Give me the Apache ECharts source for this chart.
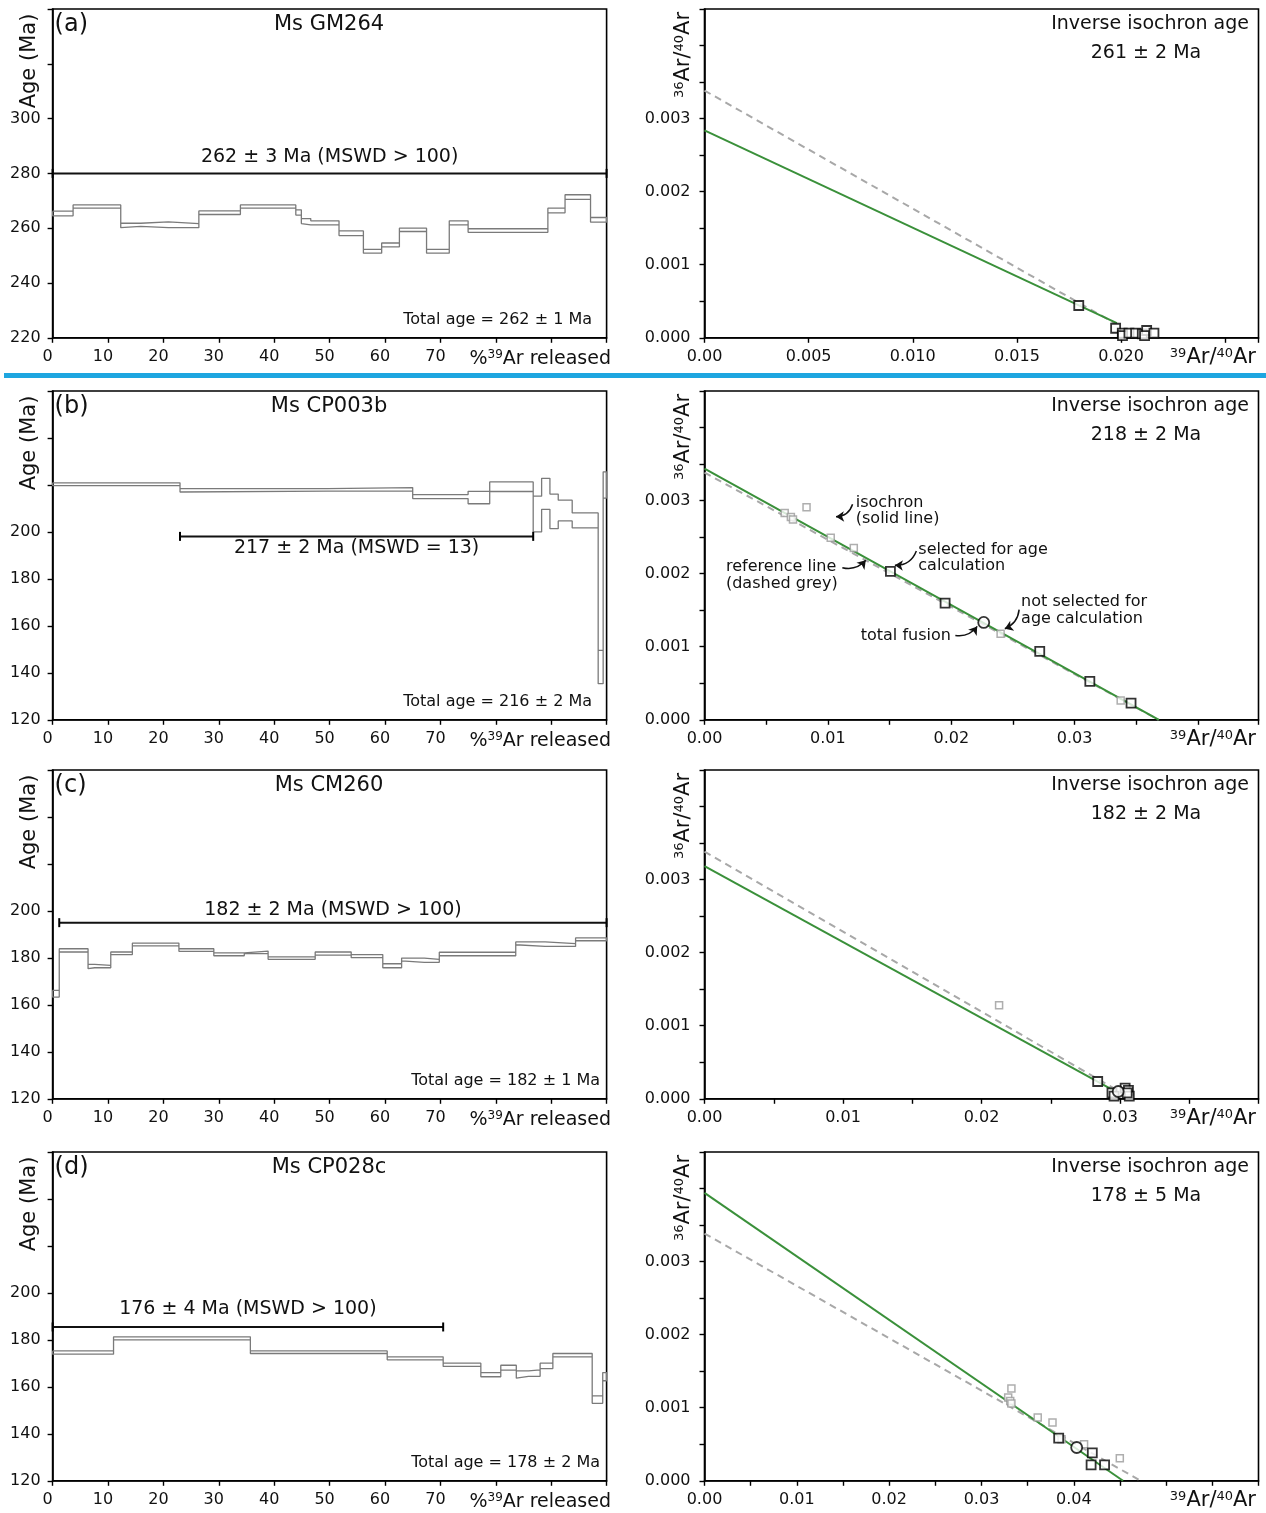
<!DOCTYPE html>
<html><head><meta charset="utf-8">
<script src="https://cdn.jsdelivr.net/npm/echarts@6/dist/echarts.min.js"></script>
<style>html,body{margin:0;padding:0;background:#fff}#c{width:1266px;height:1513px}</style>
</head><body><div id="c"></div>
<script>
// ---------------- DATA ----------------
const panelLetters = ['(a)', '(b)', '(c)', '(d)'];
const sampleNames = ['Ms GM264', 'Ms CP003b', 'Ms CM260', 'Ms CP028c'];
const totalAgeText = ['Total age = 262 \u00b1 1 Ma', 'Total age = 216 \u00b1 2 Ma', 'Total age = 182 \u00b1 1 Ma', 'Total age = 178 \u00b1 2 Ma'];
const isoAgeText = ['261 \u00b1 2 Ma', '218 \u00b1 2 Ma', '182 \u00b1 2 Ma', '178 \u00b1 5 Ma'];

// age spectra: cumulative %39Ar boundaries, upper / lower age of each step (Ma)
const specA_cum = [0,3.7,12.3,15.9,20.9,26.4,33.9,43.9,44.9,46.6,51.7,56.1,59.4,62.6,67.5,71.6,75.0,89.4,92.5,97.1,100];
const specA_hi = [266.2,268.5,261.8,262.3,261.7,266.3,268.5,266.7,263.5,262.7,259.0,252.3,254.6,260.0,252.3,262.7,259.8,267.3,272.2,263.9];
const specA_lo = [264.5,267.3,260.2,260.7,260.2,265.0,267.3,264.8,261.7,261.2,257.3,250.9,253.2,258.8,250.9,261.2,258.5,265.6,270.5,262.2];

const specB_cum = [0,23.0,49.6,65.0,75.0,78.9,86.75,88.27,89.77,91.27,93.79,98.48,99.38,100];
const specB_hi = [220.9,218.4,218.9,215.9,217.3,221.3,215.2,222.8,216.1,213.5,208.1,149.6,225.6];
const specB_lo = [219.7,217.0,217.4,214.2,212.0,217.2,200.0,209.6,201.4,204.7,201.7,135.4,214.4];

const specC_cum = [0,1.2,6.4,7.6,10.5,14.4,22.8,29.1,34.6,38.9,47.4,53.9,59.6,63.0,67.1,69.8,83.6,88.9,94.4,100];
const specC_hi = [166.2,183.9,177.2,176.8,182.5,186.3,183.9,182.1,182.9,180.4,182.5,181.4,177.5,179.9,179.4,182.4,186.8,186.1,188.5];
const specC_lo = [163.3,182.5,175.4,175.8,181.4,185.1,182.8,180.9,181.8,179.4,181.2,180.1,175.8,178.7,178.1,180.9,185.6,184.9,187.3];

const specD_cum = [0,11.0,35.7,60.4,70.5,77.3,80.9,83.7,85.9,88.0,90.3,97.4,99.3,100];
const specD_hi = [175.3,181.3,175.3,172.8,170.1,166.1,169.2,166.8,167.2,170.1,174.2,156.2,166.1];
const specD_lo = [173.9,180.0,174.2,171.5,168.7,164.3,167.1,163.7,164.5,167.8,172.8,153.0,162.6];

// plateaus
const plateauFrom = [0, 23.0, 1.2, 0];
const plateauTo = [100, 86.75, 100, 70.5];
const plateauAge = [280, 198.1, 195.0, 185.5];
const plateauText = ['262 \u00b1 3 Ma (MSWD > 100)', '217 \u00b1 2 Ma (MSWD = 13)', '182 \u00b1 2 Ma (MSWD > 100)', '176 \u00b1 4 Ma (MSWD > 100)'];

// inverse isochrons: [39Ar/40Ar, 36Ar/40Ar]
const isoA_sel = [[0.01797,0.000442],[0.01974,0.000131],[0.02006,0.000063],[0.02007,0.00003],[0.02038,0.000063],[0.0207,0.000063],[0.02102,0.000055],[0.02123,0.0001],[0.02113,0.00003],[0.02158,0.000063]];
const isoA_rej = [];
const isoA_tf = [];
const isoA_line = [[0,0.00284],[0.0198,0.0002]];
const isoA_ref = [[0,0.003384],[0.0197,0.0002]];

const isoB_sel = [[0.01507,0.002032],[0.0195,0.001598],[0.02717,0.000936],[0.03123,0.000525],[0.03457,0.000228]];
const isoB_rej = [[0.0065,0.00283],[0.0070,0.002776],[0.00717,0.00274],[0.00827,0.00291],[0.01023,0.002493],[0.0121,0.002352],[0.024,0.001178],[0.03373,0.000265]];
const isoB_tf = [[0.02263,0.001333]];
const isoB_line = [[0,0.003438],[0.03683,0]];
const isoB_ref = [[0,0.003384],[0.0368,0]];

const isoC_sel = [[0.02839,0.000237],[0.02942,0.000082],[0.02957,0.000037],[0.03037,0.000146],[0.03061,0.000114],[0.03067,0.000037],[0.03052,0.00008]];
const isoC_rej = [[0.02127,0.001279]];
const isoC_tf = [[0.02987,0.0001]];
const isoC_line = [[0,0.003183],[0.0296,0.00011]];
const isoC_ref = [[0,0.003384],[0.0296,0.00014]];

const isoD_sel = [[0.03836,0.000583],[0.0420,0.000383],[0.04187,0.000219],[0.04333,0.000219]];
const isoD_rej = [[0.03324,0.001262],[0.03289,0.001139],[0.03311,0.001093],[0.03324,0.001057],[0.03609,0.000866],[0.03769,0.000797],[0.03867,0.000569],[0.04111,0.000501],[0.04498,0.00031]];
const isoD_tf = [[0.04031,0.000456]];
const isoD_line = [[0,0.003941],[0.04533,0]];
const isoD_ref = [[0,0.003384],[0.04724,0]];

// isochron x-axis ranges
const isoXMax = [0.0266, 0.0449, 0.04, 0.06];

// annotations in panel (b) isochron
const annoText = ['isochron\n(solid line)', 'reference line\n(dashed grey)', 'selected for age\ncalculation', 'not selected for\nage calculation', 'total fusion'];
const annoAnchor = [[0.01226,0.00286],[0.00174,0.001977],[0.01733,0.002216],[0.02566,0.001497],[0.01266,0.001155]];
const annoArrows = [
  [[0.0120,0.00295],[0.01066,0.002778]],
  [[0.01117,0.002082],[0.01307,0.002182]],
  [[0.01717,0.00231],[0.01543,0.002114]],
  [[0.0255,0.001507],[0.02434,0.001247]],
  [[0.02033,0.001155],[0.0221,0.001278]]
];
const annoCurve = [0.35, -0.3, 0.35, 0.3, -0.3];

// ---------------- LAYOUT ----------------
const FONT = 'DejaVu Sans';
const INK = '#111';
const rowTop = [9, 391, 770, 1152];
const plotH = 328.8;
const leftX = 52.6, rightX = 704.5, plotW = 554;
const totalRight = [592, 592, 600, 600];
const plateauGap = [16, -12, 13, 18];

const specs = [[specA_cum,specA_hi,specA_lo],[specB_cum,specB_hi,specB_lo],[specC_cum,specC_hi,specC_lo],[specD_cum,specD_hi,specD_lo]];
const isos = [
  [isoA_sel,isoA_rej,isoA_tf,isoA_line,isoA_ref],
  [isoB_sel,isoB_rej,isoB_tf,isoB_line,isoB_ref],
  [isoC_sel,isoC_rej,isoC_tf,isoC_line,isoC_ref],
  [isoD_sel,isoD_rej,isoD_tf,isoD_line,isoD_ref]
];

function envelope(cum, hi, lo) {
  const p = [];
  for (let i = 0; i < hi.length; i++) { p.push([cum[i], hi[i]], [cum[i+1], hi[i]]); }
  for (let i = hi.length - 1; i >= 0; i--) { p.push([cum[i+1], lo[i]], [cum[i], lo[i]]); }
  p.push([cum[0], hi[0]]);
  return p;
}

const axisLineS = {show:true, onZero:false, lineStyle:{color:'#000', width:1.6}};
const tickS = {show:true, inside:false, length:5, lineStyle:{color:'#000', width:1.4}};
const lblS = {color:INK, fontSize:16, fontFamily:FONT};

const grids = [], xAxes = [], yAxes = [], series = [], graphics = [];

function txt(x, y, text, size, align, extra) {
  return Object.assign({type:'text', x:x, y:y, z:10, silent:true,
    style:{text:text, fontSize:size, fontFamily:FONT, fill:INK, align:align, verticalAlign:'middle'}}, extra || {});
}
function supTxt(x, y, text, size, supSize, align, rotation) {
  const g = {type:'text', x:x, y:y, z:10, silent:true,
    style:{text:text, fontSize:size, fontFamily:FONT, fill:INK, align:align, verticalAlign:'middle',
      rich:{s:{fontSize:supSize, fontFamily:FONT, fill:INK, verticalAlign:'top'}, n:{fontSize:size, fontFamily:FONT, fill:INK}}}};
  if (rotation) g.rotation = rotation;
  return g;
}

for (let r = 0; r < 4; r++) {
  const top = rowTop[r];
  const bottom = top + plotH;
  const gL = r*2, gR = r*2 + 1;
  grids.push({left:leftX, top:top, width:plotW, height:plotH, show:true, borderColor:'#000', borderWidth:1.6, backgroundColor:'#fff'});
  grids.push({left:rightX, top:top, width:plotW, height:plotH, show:true, borderColor:'#000', borderWidth:1.6, backgroundColor:'#fff'});
  xAxes.push({gridIndex:gL, type:'value', min:0, max:100, interval:10, axisLine:axisLineS, axisTick:tickS, splitLine:{show:false},
    axisLabel:Object.assign({margin:11, padding:[0,10,0,0], formatter:v => v <= 70 ? String(v) : ''}, lblS)});
  const yMin = r === 0 ? 220 : 120, yMax = r === 0 ? 340 : 260, yLab = r === 0 ? 300 : 200;
  yAxes.push({gridIndex:gL, type:'value', min:yMin, max:yMax, interval:20, axisLine:axisLineS, axisTick:tickS, splitLine:{show:false},
    axisLabel:Object.assign({margin:12, formatter:v => v <= yLab ? String(v) : ''}, lblS)});
  const xm = isoXMax[r];
  xAxes.push({gridIndex:gR, type:'value', min:0, max:xm, interval:0.005, axisLine:axisLineS, axisTick:tickS, splitLine:{show:false},
    axisLabel:Object.assign({margin:11, formatter:function(v){
      const k = Math.round(v/0.005);
      if (Math.abs(v - k*0.005) > 1e-9) return '';
      if (r === 0) { if (k === 0) return '0.00'; return k <= 4 ? (k*0.005).toFixed(3) : ''; }
      const lim = r === 3 ? 8 : 6;
      return (k % 2 === 0 && k <= lim) ? (k*0.005).toFixed(2) : '';
    }}, lblS)});
  yAxes.push({gridIndex:gR, type:'value', min:0, max:0.0045, interval:0.0005, axisLine:axisLineS, axisTick:tickS, splitLine:{show:false},
    axisLabel:Object.assign({margin:14, formatter:function(v){
      const k = Math.round(v/0.0005);
      return (k % 2 === 0 && k <= 6) ? (k*0.0005).toFixed(3) : '';
    }}, lblS)});

  // spectrum envelope
  const sp = specs[r];
  series.push({type:'line', xAxisIndex:gL, yAxisIndex:gL, data:envelope(sp[0], sp[1], sp[2]), symbol:'none', silent:true,
    lineStyle:{color:'#7a7a7a', width:1.3}, z:3});
  // plateau
  series.push({type:'line', xAxisIndex:gL, yAxisIndex:gL,
    data:[[plateauFrom[r], plateauAge[r]], [plateauTo[r], plateauAge[r]]],
    symbol:'rect', symbolSize:[2,9], showSymbol:true, itemStyle:{color:'#000'}, lineStyle:{color:'#111', width:2}, z:4});

  // isochron
  const iso = isos[r];
  series.push({type:'line', xAxisIndex:gR, yAxisIndex:gR, data:iso[4], symbol:'none', lineStyle:{color:'#a8a8a8', width:2, type:[7,5]}, z:2});
  series.push({type:'line', xAxisIndex:gR, yAxisIndex:gR, data:iso[3], symbol:'none', lineStyle:{color:'#3a903a', width:2}, z:3});
  series.push({type:'scatter', xAxisIndex:gR, yAxisIndex:gR, data:iso[1], symbol:'rect', symbolSize:7,
    itemStyle:{color:'#fff', borderColor:'#9a9a9a', borderWidth:1.5}, z:4});
  series.push({type:'scatter', xAxisIndex:gR, yAxisIndex:gR, data:iso[0], symbol:'rect', symbolSize:9,
    itemStyle:{color:'#fff', borderColor:'#000', borderWidth:1.8}, z:5});
  series.push({type:'scatter', xAxisIndex:gR, yAxisIndex:gR, data:iso[2], symbol:'circle', symbolSize:11,
    itemStyle:{color:'#fff', borderColor:'#000', borderWidth:1.8}, z:6});

  // texts - left
  graphics.push(txt(leftX + 2, top + 16, panelLetters[r], 24, 'left'));
  graphics.push(txt(329, top + 16, sampleNames[r], 21, 'center'));
  graphics.push(txt(totalRight[r], bottom - 18, totalAgeText[r], 16, 'left' === 'x' ? 'left' : 'right'));
  graphics.push(txt(30, top + 52, 'Age (Ma)', 21, 'center', {rotation:Math.PI/2}));
  graphics.push(supTxt(611, bottom + 21, '{n|%}{s|39}{n|Ar released}', 19, 12, 'right'));
  // texts - right
  graphics.push(txt(1249, top + 15, 'Inverse isochron age', 19, 'right'));
  graphics.push(txt(1146, top + 44, isoAgeText[r], 19, 'center'));
  graphics.push(supTxt(684, top + 46, '{s|36}{n|Ar/}{s|40}{n|Ar}', 21, 13, 'center', Math.PI/2));
  graphics.push(supTxt(1256, bottom + 20, '{s|39}{n|Ar/}{s|40}{n|Ar}', 21, 13, 'right'));
}

// annotation arrows (panel b isochron)
series.push({type:'lines', coordinateSystem:'cartesian2d', xAxisIndex:3, yAxisIndex:3, symbol:['none','arrow'], symbolSize:8,
  data:annoArrows.map((c, i) => ({coords:c, lineStyle:{curveness:annoCurve[i]}})),
  lineStyle:{color:'#111', width:1.5, opacity:1}, z:7});

// blue separator
graphics.push({type:'rect', shape:{x:4, y:373, width:1262, height:5}, z:10, style:{fill:'#1ea6e0'}});

const chart = echarts.init(document.getElementById('c'), null, {renderer:'canvas'});
chart.setOption({
  animation:false,
  backgroundColor:'#fff',
  grid:grids, xAxis:xAxes, yAxis:yAxes, series:series, graphic:graphics
});

// data-anchored texts: plateau labels and annotation texts
const extra = [];
for (let r = 0; r < 4; r++) {
  const p = chart.convertToPixel({gridIndex:r*2}, [(plateauFrom[r] + plateauTo[r]) / 2, plateauAge[r]]);
  extra.push(txt(p[0], p[1] - plateauGap[r], plateauText[r], 19, 'center'));
}
annoAnchor.forEach((a, i) => {
  const p = chart.convertToPixel({gridIndex:3}, a);
  const g = txt(p[0], p[1], annoText[i], 16, 'left');
  g.style.lineHeight = 16.5;
  extra.push(g);
});
chart.setOption({graphic:graphics.concat(extra)});
</script>
</body></html>
